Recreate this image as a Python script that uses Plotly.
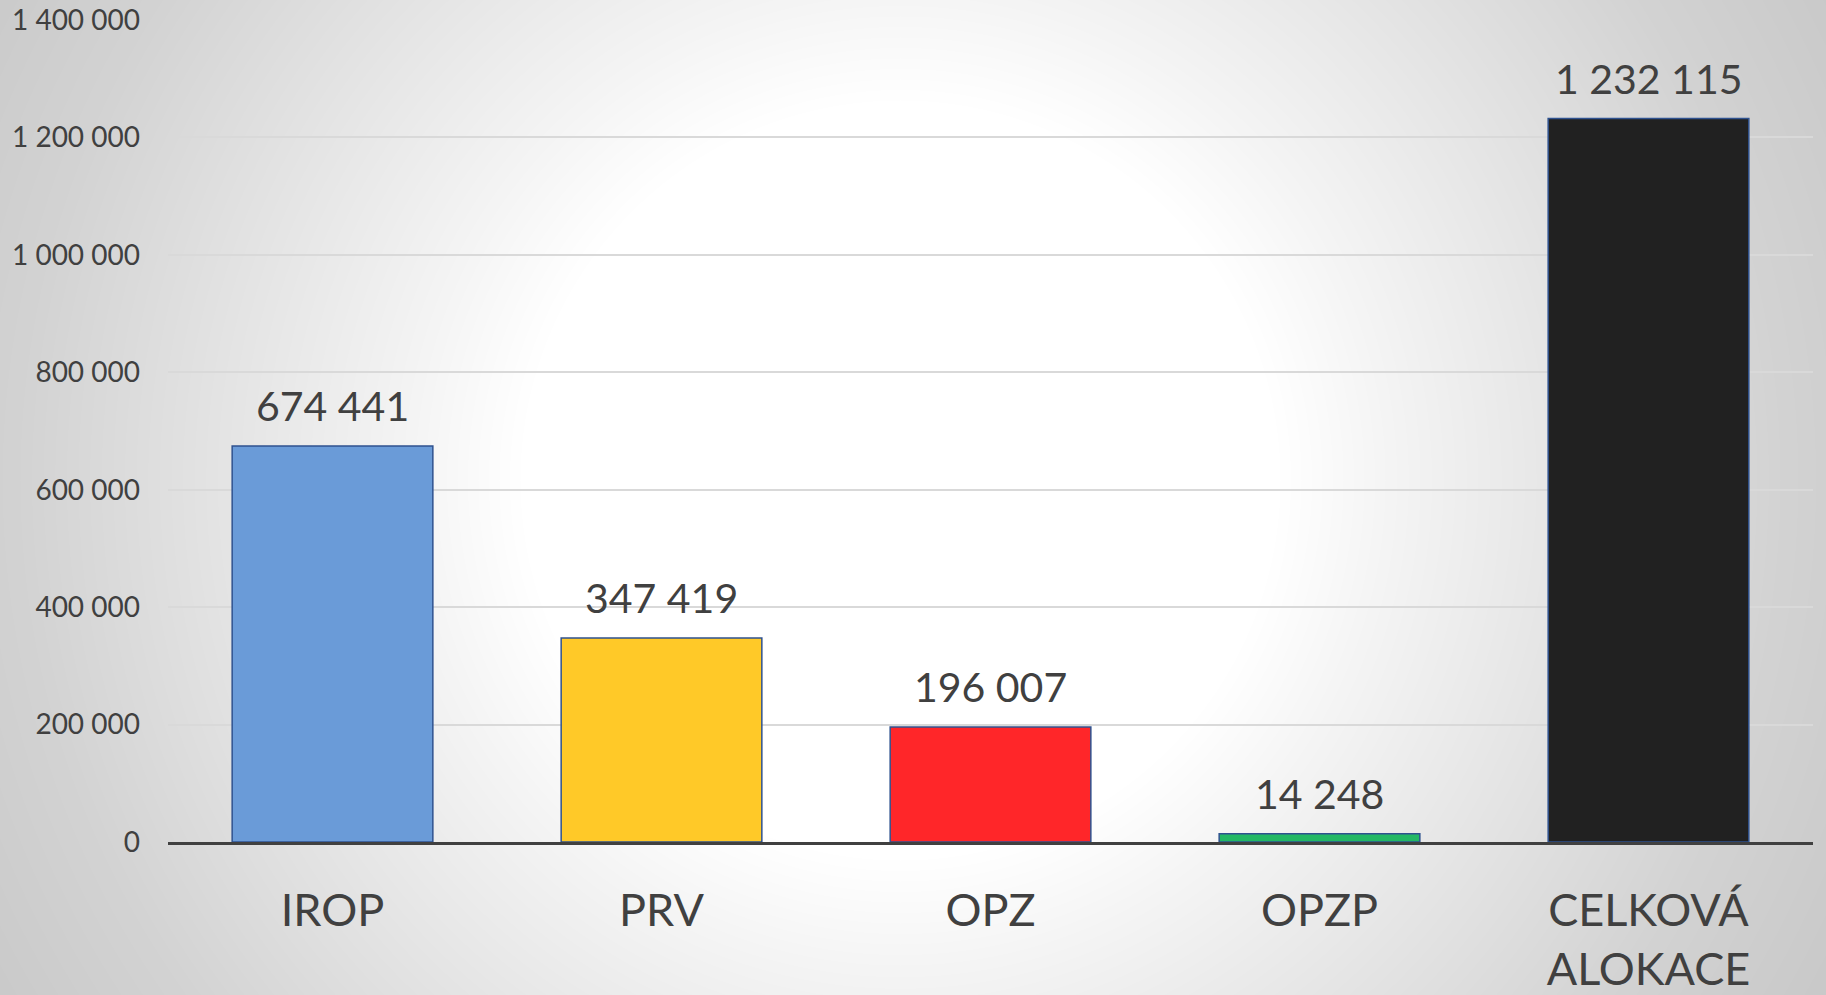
import base64
import struct
import zlib

import numpy as np
import plotly.graph_objects as go

# ---- data -------------------------------------------------------------
categories = ["IROP", "PRV", "OPZ", "OPZP", "CELKOVÁ<br>ALOKACE"]
values = [674441, 347419, 196007, 14248, 1232115]
bar_colors = ["#6A9BD8", "#FFC928", "#FF2629", "#23B865", "#212121"]
y_ticks = [0, 200000, 400000, 600000, 800000, 1000000, 1200000, 1400000]

# ---- page geometry ----------------------------------------------------
W, H = 1826, 995
M_L, M_R, M_T, M_B = 168, 13, 20, 153
PW = W - M_L - M_R
PH = H - M_T - M_B
TEXT = "#404040"
FONT = "Lato"


def space_thousands(v):
    return f"{v:,}".replace(",", " ")


def gray_png_uri(arr):
    """Encode a 2-D uint8 array as a grayscale PNG data URI."""
    h, w = arr.shape
    raw = b"".join(b"\x00" + row.tobytes() for row in arr)

    def chunk(tag, data):
        return (struct.pack(">I", len(data)) + tag + data
                + struct.pack(">I", zlib.crc32(tag + data) & 0xFFFFFFFF))

    png = (b"\x89PNG\r\n\x1a\n"
           + chunk(b"IHDR", struct.pack(">IIBBBBB", w, h, 8, 0, 0, 0, 0))
           + chunk(b"IDAT", zlib.compress(raw, 9))
           + chunk(b"IEND", b""))
    return "data:image/png;base64," + base64.b64encode(png).decode()


# radial white-to-grey backdrop
yy, xx = np.mgrid[0:H, 0:W].astype(float)
r = np.hypot(xx - 900, yy - 480)
shade = np.interp(r, [0, 380, 485, 880, 1040, 1200],
                  [255, 255, 245, 211, 202, 196])
backdrop = gray_png_uri(np.clip(shade, 0, 255).astype(np.uint8))

fig = go.Figure()
fig.add_trace(go.Bar(
    x=categories,
    y=values,
    marker=dict(color=bar_colors, line=dict(color="#2F528F", width=1.5)),
    hoverinfo="skip",
))

for cat, v in zip(categories, values):
    fig.add_annotation(
        x=cat, y=v, text=space_thousands(v),
        showarrow=False, yanchor="bottom", yshift=14,
        font=dict(family=FONT, size=41, color=TEXT),
    )

fig.add_layout_image(
    source=backdrop, xref="paper", yref="paper",
    x=-M_L / PW, y=1 + M_T / PH, sizex=W / PW, sizey=H / PH,
    xanchor="left", yanchor="top", sizing="stretch", layer="below",
)

fig.update_layout(
    width=W, height=H,
    margin=dict(l=M_L, r=M_R, t=M_T, b=M_B, pad=0, autoexpand=False),
    paper_bgcolor="#d2d2d2",
    plot_bgcolor="rgba(0,0,0,0)",
    separators=". ",
    bargap=0.39,
    showlegend=False,
    font=dict(family=FONT, color=TEXT),
    xaxis=dict(
        showgrid=False, showline=True, linecolor="#404040", linewidth=3,
        ticks="", tickfont=dict(family=FONT, size=45, color=TEXT),
        ticklabelstandoff=27, layer="above traces", automargin=False,
    ),
    yaxis=dict(
        range=[0, 1400000], tickvals=y_ticks,
        ticktext=[space_thousands(t) for t in y_ticks],
        showgrid=True, gridcolor="#D9D9D9", gridwidth=2,
        zeroline=False, showline=False, ticks="",
        tickfont=dict(family=FONT, size=28, color=TEXT),
        ticklabelstandoff=27, automargin=False,
    ),
)

fig.write_html("out.html")
